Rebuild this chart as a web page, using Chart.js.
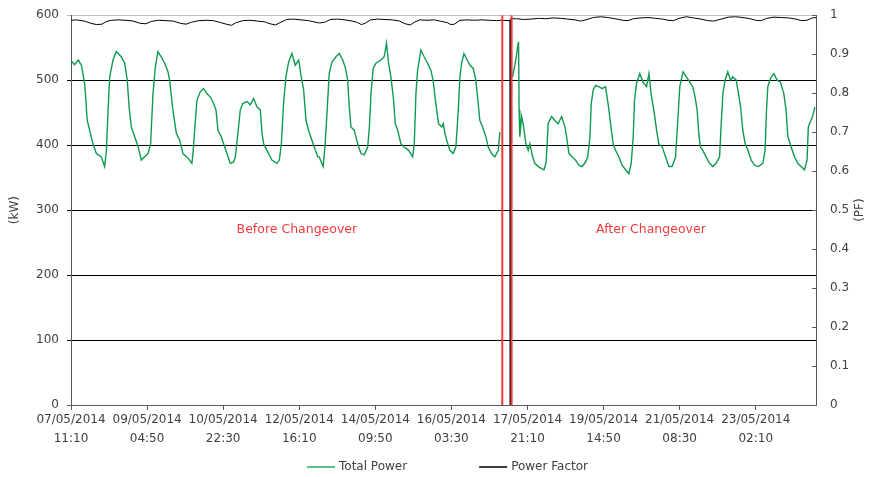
<!DOCTYPE html>
<html>
<head>
<meta charset="utf-8">
<script src="https://cdn.jsdelivr.net/npm/chart.js@4.4.1/dist/chart.umd.min.js"></script>
<style>
  html, body { margin: 0; padding: 0; background: #fff; }
  #wrap { width: 870px; height: 477px; }
</style>
</head>
<body>
<div id="wrap"><canvas id="powerChart" width="870" height="477"></canvas></div>
<script>
// hours since 07/05/2014 11:10
const powerHours = [0,2,4,5.7,7.5,8.9,10.2,12,13.9,16.6,18.4,19.4,20.3,21.2,23,24.8,27.5,29.4,30.8,31.8,33,34.9,36.7,38.5,40.3,42.2,43.6,44.9,46.2,47.6,49.4,51.3,53.1,54,55.8,57.7,59.5,61.3,64.1,66.2,66.8,68.1,69,70.8,72.6,74.5,76.3,78.1,79.4,80.5,82.3,83.6,85.4,87.2,89.1,90,91.4,92.7,94,96.4,98.2,100,101.8,103.7,104.6,105.5,107.3,110,112.8,114.1,115.2,116.4,117.7,119.2,121,122.8,124.7,126.1,127.4,128.7,130.1,131.9,133.8,135.2,135.9,138.1,139.2,140.5,141.4,142.9,145.1,146.9,148.8,150.2,151.5,152.4,153.3,155.1,157,158.8,160.6,162.5,163.4,164.3,165.5,167,169.7,171.5,172.8,173.9,175.2,176.5,177.6,178.9,180.7,182.5,184.9,187.1,188,188.9,189.8,191.6,193.4,195.3,197.1,198.3,199.8,201.3,203.1,203.9,204.8,205.7,207.5,209.3,210.8,212.1,213,213.9,215.2,216.6,218.5,220.3,221.7,223,223.9,225.4,227.2,228.5,230.3,232.1,234,234.9,236,241.8,242.5,243.6,244.6,245.1,245.4,245.8,246.8,247.6,249.1,250.4,251.3,252.8,254,255.9,257.7,259,260.1,260.8,261.3,263.2,265,266.8,268.7,270.5,271.4,272.7,274.5,276.3,278.1,279.9,281.8,283,284.2,284.9,286,287.3,289.1,290.9,292.7,293.6,294.6,295.5,296.9,298.2,300,301.8,303.7,305.5,306.8,307.9,308.6,309.7,311.5,313.3,315.2,316.5,317.7,319.2,320.7,321.9,323.8,325.6,327.4,329.2,331.1,332.3,333.4,335.2,337,338.9,340.5,341.8,342.9,343.8,344.7,346,347.8,349.7,351.5,353.3,355.2,356,357,358.2,359.7,361.2,362.4,364.3,365.2,366.7,367.9,369.2,370.7,372.5,374.3,376.5,378.9,380.1,380.9,381.6,383.1,384.9,386.7,388.5,390.4,391.6,392.6,394.4,396.2,398,399.8,401.7,403.1,403.8,404.9,406.1,407.4];
const powerKw = [530,524,531,523,494,438,423,402,387,382,367,392,454,505,531,544,536,526,500,459,428,413,398,377,382,387,402,479,520,544,536,526,513,500,454,418,408,387,380,372,387,438,469,482,487,479,474,464,454,423,413,402,387,372,374,382,418,454,464,467,462,472,459,454,418,402,392,377,372,377,402,464,505,528,541,523,531,505,485,438,423,408,392,382,382,367,402,464,510,528,536,541,531,520,500,459,428,423,402,387,385,397,428,479,518,526,531,536,557,526,505,474,433,423,402,397,392,382,402,479,515,546,536,526,515,500,464,433,428,433,418,408,392,387,397,454,505,526,541,533,523,518,500,464,438,428,413,397,387,382,392,420,null,505,515,531,551,559,454,413,444,433,402,392,402,382,372,367,364,362,372,402,433,444,438,433,444,428,413,387,382,377,369,367,374,382,413,464,485,492,490,487,490,474,454,433,402,392,382,369,362,356,372,413,469,495,510,497,490,510,479,454,423,402,397,382,367,367,382,438,490,513,505,497,490,474,454,418,397,392,382,372,367,372,382,428,479,500,513,500,505,500,485,459,423,402,392,377,369,367,372,392,454,490,503,510,500,497,479,454,413,397,382,372,367,362,377,428,436,444,459];

const pfHours = [0,3,6,8,11,14,17,19,22,26,30,34,38,41,44,48,52,56,60,63,66,70,74,78,82,85,88,90,94,98,102,106,109,112,115,118,122,126,130,133,136,139,142,146,150,154,157,159,161,164,168,172,176,180,183,186,188,191,195,199,203,206,208,210,213,217,221,225,229,233,236,240.4,240.5,240.6,244,248,252,256,260,264,268,272,276,279,282,286,290,294,298,302,305,308,312,316,320,324,327,330,333,337,341,345,349,352,356,360,364,368,372,375,378,381,385,389,393,397,400,403,406,408];
const powerFactor = [0.987,0.988,0.986,0.984,0.979,0.976,0.977,0.983,0.987,0.988,0.987,0.985,0.979,0.978,0.984,0.987,0.986,0.985,0.979,0.977,0.982,0.986,0.987,0.986,0.981,0.977,0.974,0.980,0.986,0.987,0.985,0.983,0.978,0.975,0.982,0.989,0.990,0.988,0.986,0.983,0.980,0.982,0.989,0.990,0.988,0.985,0.981,0.976,0.979,0.988,0.990,0.989,0.988,0.985,0.978,0.975,0.982,0.988,0.987,0.988,0.984,0.981,0.976,0.977,0.987,0.988,0.987,0.988,0.987,0.986,0.987,0.986,0,0.991,0.991,0.989,0.990,0.992,0.991,0.993,0.992,0.990,0.988,0.985,0.988,0.994,0.996,0.994,0.991,0.987,0.986,0.991,0.993,0.994,0.992,0.990,0.987,0.986,0.992,0.996,0.993,0.990,0.986,0.985,0.990,0.995,0.996,0.994,0.991,0.987,0.986,0.992,0.995,0.994,0.993,0.990,0.986,0.987,0.993,0.994];

const tickHours = [0,41.667,83.333,125,166.667,208.333,250,291.667,333.333,375];
const tickLabels = [
  ['07/05/2014','11:10'], ['09/05/2014','04:50'], ['10/05/2014','22:30'],
  ['12/05/2014','16:10'], ['14/05/2014','09:50'], ['16/05/2014','03:30'],
  ['17/05/2014','21:10'], ['19/05/2014','14:50'], ['21/05/2014','08:30'],
  ['23/05/2014','02:10']
];

const changeoverHours = [236.2, 241.3];
const noteText = ['Before Changeover', 'After Changeover'];
const noteHours = [123.7, 317.6];
const noteKw = [269, 269];

const seriesNames = ['Total Power', 'Power Factor'];
const seriesColors = ['#0f9a50', '#000000'];

const FONT = '"DejaVu Sans", sans-serif';
const TXT = '#404040';

const datasets = changeoverHours.map(h => ({
  data: [{ x: h, y: 0 }, { x: h, y: 600 }],
  borderColor: '#f03a3a',
  borderWidth: 2,
  pointRadius: 0,
  yAxisID: 'y'
}));
datasets.push({
  label: seriesNames[1],
  data: pfHours.map((h, i) => ({ x: h, y: powerFactor[i] })),
  borderColor: seriesColors[1],
  borderWidth: 1,
  pointRadius: 0,
  tension: 0,
  yAxisID: 'y1'
});
datasets.push({
  label: seriesNames[0],
  data: powerHours.map((h, i) => ({ x: h, y: powerKw[i] })),
  borderColor: seriesColors[0],
  borderWidth: 1.4,
  pointRadius: 0,
  tension: 0,
  spanGaps: false,
  yAxisID: 'y'
});

// notes inside the plot + legend under the axis
const overlay = {
  id: 'overlay',
  afterDraw(chart) {
    const { ctx, chartArea, scales: { x, y, y1 } } = chart;
    ctx.save();
    ctx.font = '12.5px ' + FONT;
    ctx.fillStyle = '#f03a3a';
    ctx.textAlign = 'center';
    ctx.textBaseline = 'middle';
    noteText.forEach((t, i) => {
      ctx.fillText(t, x.getPixelForValue(noteHours[i]), y.getPixelForValue(noteKw[i]));
    });

    // inside tick marks on the right axis
    ctx.strokeStyle = '#595959';
    ctx.lineWidth = 1;
    y1.ticks.forEach(t => {
      const py = Math.round(y1.getPixelForValue(t.value)) + 0.5;
      ctx.beginPath();
      ctx.moveTo(chartArea.right - 4, py);
      ctx.lineTo(chartArea.right, py);
      ctx.stroke();
    });

    ctx.font = '12px ' + FONT;
    ctx.textAlign = 'left';
    const lineW = 28, gapText = 4, gapItem = 72;
    const widths = seriesNames.map(n => lineW + gapText + ctx.measureText(n).width);
    const total = widths[0] + gapItem + widths[1];
    let lx = (chartArea.left + chartArea.right) / 2 + 4 - total / 2;
    const ly = 467;
    seriesNames.forEach((n, i) => {
      ctx.strokeStyle = i === 0 ? '#5cbf8a' : '#404040';
      ctx.lineWidth = 2;
      ctx.beginPath();
      ctx.moveTo(lx, ly);
      ctx.lineTo(lx + lineW, ly);
      ctx.stroke();
      ctx.fillStyle = TXT;
      ctx.fillText(n, lx + lineW + gapText, ly);
      lx += widths[i] + gapItem;
    });

    // right axis title, rotated like the left one
    ctx.save();
    ctx.translate(860, (chartArea.top + chartArea.bottom) / 2);
    ctx.rotate(-Math.PI / 2);
    ctx.textAlign = 'center';
    ctx.fillText('(PF)', 0, 0);
    ctx.restore();
    ctx.restore();
  }
};

new Chart(document.getElementById('powerChart'), {
  type: 'line',
  data: { datasets },
  plugins: [overlay],
  options: {
    responsive: false,
    animation: false,
    layout: { padding: { top: 0, bottom: 30, left: 0, right: 0 } },
    plugins: { legend: { display: false }, tooltip: { enabled: false } },
    scales: {
      x: {
        type: 'linear',
        min: 0,
        max: 408,
        afterBuildTicks: s => { s.ticks = tickHours.map(v => ({ value: v })); },
        afterFit: s => { s.height = 42; },
        ticks: {
          autoSkip: false,
          maxRotation: 0,
          padding: 0,
          color: TXT,
          font: { family: FONT, size: 12, lineHeight: 1.6 },
          callback: (v, i) => tickLabels[i]
        },
        grid: { drawOnChartArea: false, tickLength: 5, color: '#595959' },
        border: { color: '#595959' }
      },
      y: {
        position: 'left',
        min: 0,
        max: 600,
        afterFit: s => { s.width = 71; },
        ticks: { stepSize: 100, padding: 8, color: TXT, font: { family: FONT, size: 12 } },
        grid: {
          tickLength: 4,
          color: c => c.tick.value === 600 ? '#bfbfbf' : (c.tick.value === 0 ? '#595959' : '#000000')
        },
        border: { color: '#595959' },
        title: { display: true, text: '(kW)', color: TXT, font: { family: FONT, size: 12 }, padding: { top: 8, bottom: 0 } }
      },
      y1: {
        position: 'right',
        min: 0,
        max: 1,
        afterFit: s => { s.width = 54; },
        ticks: {
          stepSize: 0.1,
          padding: 4,
          color: TXT,
          font: { family: FONT, size: 12 },
          callback: v => String(Math.round(v * 10) / 10)
        },
        grid: { drawOnChartArea: false, tickLength: 10, color: 'rgba(0,0,0,0)' },
        border: { color: '#595959' }
      }
    }
  }
});
</script>
</body>
</html>
